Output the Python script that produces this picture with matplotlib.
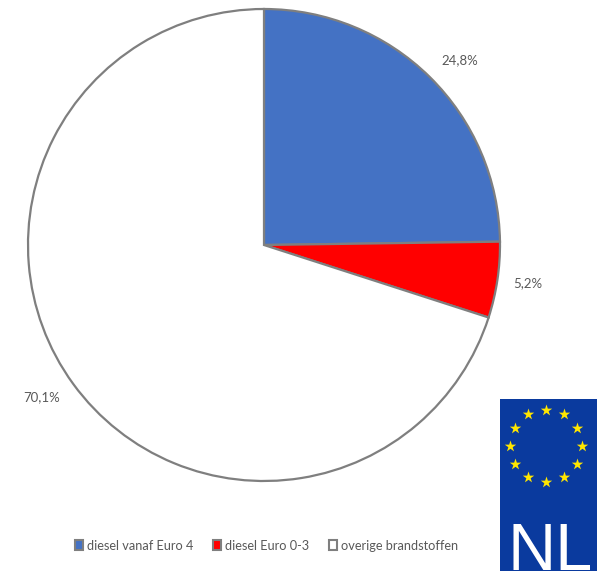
import numpy as np
import matplotlib
matplotlib.use('Agg')
import matplotlib.pyplot as plt

W, H = 600, 571

categories = ['diesel vanaf Euro 4', 'diesel Euro 0-3', 'overige brandstoffen']
shares = [24.8, 5.2, 70.1]
share_labels = ['24,8%', '5,2%', '70,1%']
colors = ['#4472C4', '#FF0000', '#FFFFFF']

plt.rcParams['font.family'] = ['Lato', 'DejaVu Sans']

def px_axes(fig, x0, y0, x1, y1):
    # axes from pixel box, y counted from the top
    return fig.add_axes([x0/W, 1 - y1/H, (x1-x0)/W, (y1-y0)/H])

fig = plt.figure(figsize=(W/100, H/100), dpi=100, facecolor='white')

# taart
cx, cy, R = 264, 245, 236
ax = px_axes(fig, cx-R, cy-R, cx+R, cy+R)
wedges, texts = ax.pie(shares, colors=colors, labels=share_labels, startangle=90,
                       counterclock=False, labeldistance=1.14, radius=1,
                       wedgeprops={'edgecolor': '#7F7F7F', 'linewidth': 1.6},
                       textprops={'fontsize': 9.5, 'color': '#595959'})
ax.set_xlim(-1, 1)
ax.set_ylim(-1, 1)
for w in wedges:
    w.set_clip_on(False)

# labels op pixelpositie
label_px = [(460, 60), (528, 283), (42, 397)]
for t, (px, py) in zip(texts, label_px):
    t.set_ha('center')
    t.set_va('center')
    t.set_clip_on(False)
    t.set_position(((px - cx)/R, (cy - py)/R))

# legenda
handles = [plt.Rectangle((0, 0), 1, 1, facecolor=c, edgecolor='#7F7F7F', linewidth=1.5) for c in colors]
leg = fig.legend(handles, categories, ncol=3, frameon=False, fontsize=9.2,
                 labelcolor='#595959', loc='center', bbox_to_anchor=(266.5/W, 1 - 545.5/H),
                 handlelength=0.65, handleheight=0.75, handletextpad=0.3, columnspacing=1.55)

# NL-kenteken
flag = px_axes(fig, 500, 399, 597, 571)
flag.set_xlim(500, 597)
flag.set_ylim(571, 399)
flag.set_facecolor('#0A3A9E')
flag.set_xticks([])
flag.set_yticks([])
for s in flag.spines.values():
    s.set_visible(False)
angles = np.deg2rad(np.arange(0, 360, 30))
flag.scatter(546 + 36*np.cos(angles), 445.5 + 36*np.sin(angles), marker='*', s=75,
             color='#FFE600', linewidths=0)
flag.text(550.5, 569.5, 'NL', color='white', fontsize=48, ha='center', va='baseline',
          family=['Liberation Sans', 'DejaVu Sans'])

fig.savefig('out.png', dpi=100, facecolor='white')
